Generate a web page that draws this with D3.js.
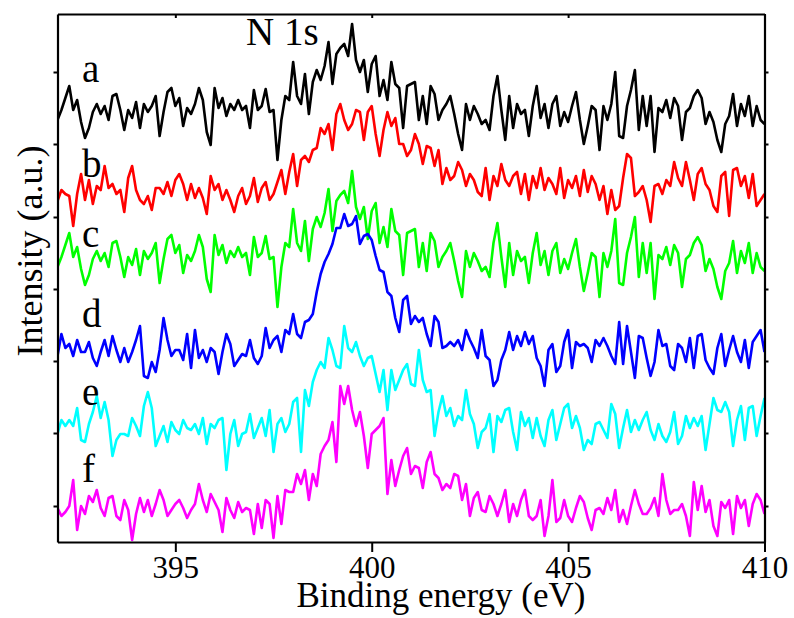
<!DOCTYPE html>
<html><head><meta charset="utf-8">
<script src="https://cdn.jsdelivr.net/npm/d3@7"></script>
<style>html,body{margin:0;padding:0;background:#fff;}svg{display:block;}
text{font-family:"Liberation Serif","Tinos","Times New Roman","DejaVu Serif",serif;}</style>
</head><body>
<svg id="chart" width="794" height="618"></svg>
<script>
// Binding energy grid (eV): first point and step
const energyStart = 392.0;
const energyStep = 0.1;
const xTicks = [395, 400, 405, 410];
const yTicks = [36, 109, 181, 253, 325, 398, 470];
const seriesNames = ["a", "b", "c", "d", "e", "f"];
const seriesColors = ["#000000", "#ff0000", "#00ff00", "#0000ff", "#00ffff", "#ff00ff"];

const seriesA = [422,432,444,456,432,442,420,404,414,430,
438,428,436,422,446,448,432,412,432,424,
440,414,438,430,436,446,406,430,450,454,
436,444,416,434,428,438,454,442,410,397,
454,434,444,426,438,432,442,432,
436,414,452,432,436,453,430,432,382,422,446,442,
480,446,438,468,428,460,472,462,476,500,
458,488,494,498,486,518,482,470,482,450,
478,486,446,462,442,480,458,454,414,456,
458,460,422,446,418,456,448,422,432,438,
446,428,408,392,438,422,436,428,418,422,
412,446,466,432,402,446,414,438,428,432,
406,436,456,424,438,414,438,446,416,430,
420,436,450,422,398,416,436,432,392,436,
422,438,470,406,404,436,452,472,412,446,
416,446,390,434,430,442,424,444,436,402,
430,434,446,452,444,418,430,420,402,390,
418,426,448,416,438,426,446,416,436,422,418];

const seriesB = [341,352,348,346,316,348,368,342,362,338,
356,352,376,354,358,348,352,330,364,376,
352,342,338,346,332,354,354,348,360,346,
362,368,358,342,358,344,354,344,328,366,
352,358,342,352,342,330,346,354,338,346,
364,340,354,360,342,348,360,372,348,370,
388,356,382,386,380,392,394,414,408,418,
392,428,438,422,412,418,432,430,402,430,
436,408,386,412,430,416,424,398,398,386,
392,408,398,378,396,394,376,392,358,374,
362,366,380,372,356,368,362,350,346,374,
342,366,356,378,362,356,366,370,348,368,
342,366,354,374,352,364,358,348,374,344,
362,354,366,346,372,350,366,358,342,356,
328,352,332,336,364,388,384,346,350,356,
342,320,356,358,348,362,356,380,364,356,
380,362,342,368,374,358,352,336,330,366,
370,326,372,374,356,366,344,368,336,342,348];

const seriesC = [275,285,297,309,285,295,273,257,267,283,
291,281,289,275,299,301,285,265,285,277,
293,267,291,283,289,299,259,283,303,307,
289,297,269,287,281,291,307,295,263,250,
307,287,297,279,291,285,295,285,
289,267,305,285,289,306,283,285,235,275,299,295,
333,299,291,321,281,313,325,315,329,353,
311,341,347,351,339,371,335,323,335,303,
331,339,299,315,295,333,311,307,267,309,
311,313,275,299,271,309,301,275,285,291,
299,281,261,245,291,275,289,281,271,275,
265,299,319,285,255,299,267,291,281,285,
259,289,309,277,291,267,291,299,269,283,
273,289,303,275,251,269,289,285,245,289,
275,291,323,259,257,289,305,325,265,299,
269,299,243,287,283,295,277,297,289,255,
283,287,299,305,297,271,283,273,255,243,
271,279,301,269,291,279,299,269,289,275,271];

const seriesD = [186,208,194,198,186,202,190,190,200,184,
176,190,202,186,206,192,180,194,180,190,
202,216,166,164,180,170,192,224,202,186,
192,192,182,208,174,212,184,192,180,194,
190,168,190,208,198,176,182,188,186,202,
184,178,186,214,194,202,206,190,212,208,
228,208,204,220,222,228,250,268,280,288,
298,314,314,328,316,318,326,298,306,308,
302,286,272,270,250,246,224,210,242,246,
218,226,220,224,208,196,226,220,194,196,
200,196,202,192,212,202,194,184,212,186,
182,156,162,182,192,210,192,206,196,210,
198,206,184,176,156,192,198,170,176,200,
212,174,200,196,198,194,180,202,196,204,
196,186,178,220,178,216,190,164,206,204,
184,166,180,212,196,198,176,172,198,194,
180,204,174,206,208,182,174,168,194,208,
176,192,206,190,180,202,174,200,206,212,190];

const seriesE = [108,122,116,122,116,134,102,100,118,130,
146,124,140,122,86,102,108,108,106,124,
116,106,136,150,134,96,106,116,100,120,
112,108,122,114,112,118,108,124,98,118,
114,122,124,72,108,122,96,108,110,128,
104,114,124,106,132,90,118,124,110,118,
140,144,90,152,136,160,172,180,174,204,
192,176,174,216,194,190,200,186,176,184,
186,168,150,172,132,172,152,162,172,178,
158,156,192,162,150,152,106,130,146,126,
134,116,126,122,152,128,118,94,110,114,
128,90,126,120,132,134,110,92,130,116,
124,104,124,106,96,122,132,102,118,134,
138,114,126,114,92,102,98,118,120,112,
104,138,128,94,114,132,110,122,112,122,
130,112,102,118,106,100,110,130,98,106,
126,114,124,116,126,92,118,144,132,130,
140,130,96,122,136,102,134,136,106,126,144];

const seriesF = [34,26,30,36,62,12,36,28,46,40,
52,34,26,44,46,26,22,42,32,2,
28,44,30,42,26,38,52,42,26,32,
38,42,34,24,32,38,58,42,30,48,
40,32,10,44,32,24,40,30,34,32,
8,38,14,42,38,4,46,18,52,50,
50,68,58,72,42,68,56,88,96,102,
120,80,156,138,156,132,116,130,106,74,
108,112,116,124,48,82,56,72,86,94,
68,76,74,54,80,90,68,64,52,58,
54,68,66,42,58,26,44,50,32,30,
46,38,26,38,52,20,38,26,42,52,
26,22,26,42,6,26,62,20,24,42,
26,20,34,46,40,24,12,32,34,28,
44,32,52,20,32,18,36,52,38,28,
28,34,44,26,68,42,28,32,32,38,
26,6,60,32,56,30,42,16,6,40,
34,42,8,46,34,42,16,38,48,42,28];

const allSeries = [seriesA, seriesB, seriesC, seriesD, seriesE, seriesF];
// label anchor intensities (left of each curve)
const labelIntensity = [460, 365, 295, 215, 137, 60];

const svg = d3.select("#chart");
const W = 794, H = 618;
const m = {left: 57.5, right: 29.5, top: 14, bottom: 76};
const x = d3.scaleLinear().domain([392, 410]).range([m.left, W - m.right]);
const y = d3.scaleLinear().domain([0, 528]).range([H - m.bottom, m.top]);
const serif = '"Liberation Serif","Tinos","Times New Roman","DejaVu Serif",serif';

svg.append("defs").append("clipPath").attr("id", "plotclip")
  .append("rect").attr("x", m.left).attr("y", m.top)
  .attr("width", W - m.left - m.right).attr("height", H - m.top - m.bottom);

const line = d3.line().x((d, i) => x(energyStart + i * energyStep)).y(d => y(d));
const g = svg.append("g").attr("clip-path", "url(#plotclip)");
allSeries.forEach((s, k) => {
  g.append("path").datum(s).attr("d", line)
    .attr("fill", "none").attr("stroke", seriesColors[k])
    .attr("stroke-width", 2.6).attr("stroke-linejoin", "round");
});

// axes
const axBottom = svg.append("g").attr("transform", `translate(0,${H - m.bottom})`)
  .call(d3.axisBottom(x).tickValues(xTicks).tickSize(10).tickSizeOuter(0).tickPadding(4));
const axTop = svg.append("g").attr("transform", `translate(0,${m.top})`)
  .call(d3.axisBottom(x).tickValues(xTicks).tickSize(4).tickSizeOuter(0).tickFormat(""));
const axLeft = svg.append("g").attr("transform", `translate(${m.left},0)`)
  .call(d3.axisLeft(y).tickValues(yTicks).tickSize(4).tickSizeOuter(0).tickFormat(""));
const axRight = svg.append("g").attr("transform", `translate(${W - m.right},0)`)
  .call(d3.axisRight(y).tickValues(yTicks).tickSize(4).tickSizeOuter(0).tickFormat(""));
[axBottom, axTop, axLeft, axRight].forEach(a => {
  a.attr("font-family", null);
  a.select(".domain").attr("stroke", "#000").attr("stroke-width", 2.2);
  a.selectAll(".tick line").attr("stroke", "#000").attr("stroke-width", 2);
});
axBottom.selectAll(".tick text").style("font-family", serif).attr("font-size", 31).attr("fill", "#000");

// axis titles
svg.append("text").attr("x", 441).attr("y", 607).attr("text-anchor", "middle")
  .style("font-family", serif).attr("font-size", 35).attr("fill", "#000")
  .text("Binding energy (eV)");
svg.append("text").attr("transform", "translate(42,251) rotate(-90)")
  .attr("text-anchor", "middle").style("font-family", serif).attr("font-size", 36)
  .attr("fill", "#000").text("Intensity (a.u.)");

// N 1s label
svg.append("text").attr("x", 246).attr("y", 45).style("font-family", serif)
  .attr("font-size", 39).attr("fill", "#000").text("N 1s");

// series labels
seriesNames.forEach((n, k) => {
  svg.append("text").attr("x", 82).attr("y", y(labelIntensity[k]))
    .style("font-family", serif).attr("font-size", 39).attr("fill", "#000").text(n);
});
</script>
</body></html>
